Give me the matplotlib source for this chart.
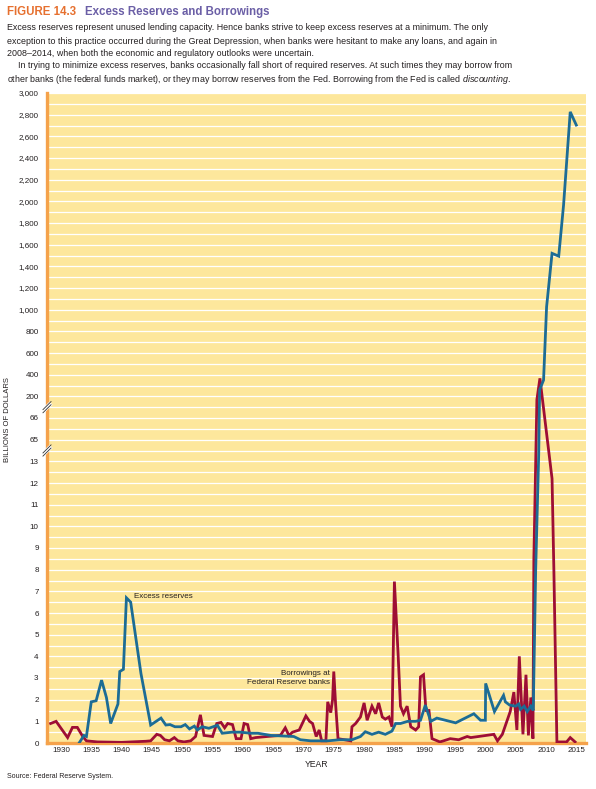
import matplotlib as mpl
mpl.use("Agg")
import matplotlib.pyplot as plt
import numpy as np

mpl.rcParams["font.family"] = ["Liberation Sans", "DejaVu Sans"]
mpl.rcParams["mathtext.fontset"] = "custom"
mpl.rcParams["mathtext.rm"] = "Liberation Sans"
mpl.rcParams["mathtext.it"] = "Liberation Sans:italic"

# excess reserves, billions of dollars
excess_years = [1933.0, 1933.8, 1934.2, 1935.0, 1935.8, 1936.7, 1937.5, 1938.2, 1939.4, 1939.7,
                1940.3, 1940.8, 1941.5, 1943.2, 1944.8, 1946.5, 1947.3, 1948.0, 1948.8, 1949.8,
                1950.5, 1951.2, 1952.0, 1952.5, 1953.3, 1954.4, 1955.8, 1956.6, 1958.2, 1959.6,
                1961.3, 1962.5, 1964.6, 1968.4, 1969.5, 1971.2, 1974.0, 1976.0, 1978.0, 1979.4,
                1980.2, 1981.3, 1982.4, 1983.5, 1984.6, 1985.2, 1986.0, 1987.2, 1988.5, 1989.3,
                1990.1, 1991.0, 1992.0, 1995.1, 1998.1, 1999.2, 2000.0, 2000.05, 2001.5, 2003.0,
                2003.3, 2004.0, 2005.0, 2005.5, 2005.8, 2006.4, 2006.9, 2007.5, 2007.9, 2008.3,
                2008.8, 2008.95, 2009.6, 2010.1, 2011.0, 2012.1, 2012.9, 2014.0, 2015.0]
excess_vals = [0.0, 0.35, 0.3, 1.9, 1.95, 2.9, 2.1, 0.9, 1.8, 3.3,
               3.4, 6.7, 6.5, 3.2, 0.83, 1.15, 0.83, 0.85, 0.75, 0.75,
               0.85, 0.65, 0.78, 0.6, 0.75, 0.68, 0.82, 0.45, 0.5, 0.5,
               0.45, 0.45, 0.35, 0.3, 0.15, 0.1, 0.1, 0.15, 0.15, 0.3,
               0.52, 0.4, 0.5, 0.4, 0.55, 0.9, 0.9, 1.0, 1.0, 1.05,
               1.75, 1.0, 1.15, 0.93, 1.35, 1.05, 1.05, 2.75, 1.45, 2.2,
               1.9, 1.75, 1.7, 1.8, 1.55, 1.7, 1.45, 1.7, 1.5, 8.0,
               30.0, 260.0, 350.0, 1026.0, 1520.0, 1494.0, 1966.0, 2826.0, 2704.0]

# borrowings at Federal Reserve banks, billions of dollars
borrow_years = [1928.3, 1929.2, 1931.1, 1931.9, 1932.7, 1933.6, 1934.2, 1936.0, 1940.0, 1944.0,
                1944.8, 1945.8, 1946.4, 1947.1, 1947.9, 1948.7, 1949.3, 1950.3, 1951.4, 1952.2,
                1953.0, 1953.6, 1955.0, 1955.7, 1956.4, 1957.0, 1957.5, 1958.3, 1958.9, 1959.7,
                1960.2, 1960.8, 1961.3, 1962.1, 1964.0, 1966.2, 1967.0, 1967.6, 1968.2, 1969.3,
                1970.4, 1971.0, 1971.5, 1972.1, 1972.6, 1973.0, 1973.7, 1974.0, 1974.5, 1974.8,
                1975.0, 1975.3, 1975.7, 1977.8, 1978.0, 1978.6, 1979.4, 1980.0, 1980.5, 1981.3,
                1981.9, 1982.4, 1983.0, 1983.5, 1984.1, 1984.6, 1985.0, 1985.6, 1986.0, 1986.5,
                1987.1, 1987.7, 1988.5, 1989.0, 1989.3, 1989.8, 1990.2, 1990.7, 1991.2, 1992.5,
                1993.1, 1994.2, 1995.6, 1997.0, 1997.6, 2001.4, 2002.0, 2002.8, 2004.1, 2004.7,
                2005.2, 2005.6, 2006.2, 2006.7, 2007.1, 2007.5, 2007.85, 2008.0, 2008.5, 2009.0,
                2011.0, 2011.3, 2011.8, 2013.4, 2014.0, 2014.8]
borrow_vals = [0.9, 1.0, 0.25, 0.72, 0.72, 0.3, 0.1, 0.05, 0.03, 0.08,
               0.1, 0.4, 0.35, 0.15, 0.1, 0.25, 0.1, 0.05, 0.1, 0.3,
               1.3, 0.35, 0.3, 0.9, 0.95, 0.7, 0.9, 0.85, 0.2, 0.2,
               0.9, 0.85, 0.2, 0.25, 0.3, 0.35, 0.7, 0.35, 0.5, 0.6,
               1.25, 1.0, 0.9, 0.3, 0.6, 0.1, 0.1, 1.9, 1.4, 2.0,
               3.3, 1.8, 0.2, 0.1, 0.75, 0.9, 1.2, 1.85, 1.05, 1.7,
               1.35, 1.85, 1.2, 1.1, 1.2, 0.75, 7.45, 4.15, 1.7, 1.35,
               1.7, 0.75, 0.6, 0.75, 3.05, 3.15, 1.5, 1.5, 0.2, 0.05,
               0.1, 0.2, 0.15, 0.3, 0.25, 0.4, 0.1, 0.4, 1.45, 2.35,
               0.6, 4.0, 0.4, 3.15, 0.35, 2.1, 0.2, 8.5, 180.0, 366.0,
               12.2, 8.0, 0.05, 0.05, 0.25, 0.05]

x_ticks = list(range(1930, 2016, 5))
y_ticks = list(range(0, 14)) + [65, 66] + list(range(200, 3001, 200))
y_tick_labels = ["{:,}".format(v) for v in y_ticks]

title_num = "FIGURE 14.3"
title_text = "Excess Reserves and Borrowings"
body_lines = [
    "Excess reserves represent unused lending capacity. Hence banks strive to keep excess reserves at a minimum. The only",
    "exception to this practice occurred during the Great Depression, when banks were hesitant to make any loans, and again in",
    "2008\u20132014, when both the economic and regulatory outlooks were uncertain.",
    "In trying to minimize excess reserves, banks occasionally fall short of required reserves. At such times they may borrow from",
    "other banks (the federal funds market), or they may borrow reserves from the Fed. Borrowing from the Fed is called $\\mathit{discounting}$.",
]

# broken y axis: piecewise linear, each tick one step apart
brk_vals = [0, 13, 65, 66, 200, 3000]
brk_pos = [0, 13, 14, 15, 16, 30]


def forward(v):
    return np.interp(v, brk_vals, brk_pos)


def inverse(p):
    return np.interp(p, brk_pos, brk_vals)


BG = "#FDE79C"
ORANGE = "#F5A24B"
BLUE = "#1C6C95"
RED = "#9E0E35"
TXT = "#231F20"

W, H = 596, 789
fig = plt.figure(figsize=(W / 100, H / 100), dpi=100)
ax = fig.add_axes([47 / W, 46 / H, 539 / W, 650 / H])
ax.set_facecolor(BG)
ax.set_yscale("function", functions=(forward, inverse))

ax.plot(borrow_years, borrow_vals, color=RED, lw=2.0, solid_joinstyle="miter", zorder=3)
ax.plot(excess_years, excess_vals, color=BLUE, lw=2.0, solid_joinstyle="miter", zorder=4)

ax.set_xlim(1927.7, 2016.6)
ax.set_ylim(0, 3000)

ax.set_yticks(y_ticks)
ax.set_yticklabels(y_tick_labels)
ax.set_yticks(inverse(np.arange(0.5, 30, 1.0)), minor=True)
ax.set_xticks(x_ticks)
ax.tick_params(axis="both", which="both", length=0, labelsize=5.8, colors=TXT)
ax.tick_params(axis="y", pad=6)
ax.tick_params(axis="x", pad=3)
ax.grid(axis="y", which="both", color="white", lw=0.9)
ax.set_axisbelow(True)

for s in ["top", "right"]:
    ax.spines[s].set_visible(False)
for s in ["left", "bottom"]:
    ax.spines[s].set_color(ORANGE)
    ax.spines[s].set_linewidth(2.4)
    ax.spines[s].set_zorder(2.5)

# axis break marks
for yb in [13.5 / 30, 15.5 / 30]:
    dx, dy = 0.0075, 0.0062
    ax.plot([-dx, dx], [yb - dy, yb + dy], transform=ax.transAxes, color="white",
            lw=3.2, clip_on=False, zorder=6, solid_capstyle="butt")
    for off in [-0.0024, 0.0024]:
        ax.plot([-dx, dx], [yb - dy + off, yb + dy + off], transform=ax.transAxes,
                color="#333333", lw=0.6, clip_on=False, zorder=7)

ax.text(1942.1, 6.75, "Excess reserves", fontsize=5.8, color=TXT, ha="left", va="center")
ax.text(1974.4, 3.0, "Borrowings at\nFederal Reserve banks", fontsize=5.8, color=TXT,
        ha="right", va="center", multialignment="right", linespacing=1.35)

ax.set_xlabel("YEAR", fontsize=6.2, color=TXT, labelpad=4)
fig.text(8 / W, 1 - 420 / H, "BILLIONS OF DOLLARS", rotation=90, fontsize=5.5,
         color=TXT, ha="center", va="center")

# header text
fig.text(7 / W, 1 - 12 / H, title_num, fontsize=8.3, fontweight="bold", color="#E6702F",
         ha="left", va="center")
fig.text(85 / W, 1 - 12 / H, title_text, fontsize=8.3, fontweight="bold", color="#6B5FA6",
         ha="left", va="center")
line_y = [28, 41, 53.5, 66, 79.5]
line_x = [7, 7, 7, 18, 7]
for t, lx, ly in zip(body_lines, line_x, line_y):
    fig.text(lx / W, 1 - ly / H, t, fontsize=6.4, color=TXT, ha="left", va="center")

fig.text(7 / W, 1 - 776 / H, "Source: Federal Reserve System.", fontsize=5.0, color=TXT,
         ha="left", va="center")

fig.savefig("out.png", dpi=100)
